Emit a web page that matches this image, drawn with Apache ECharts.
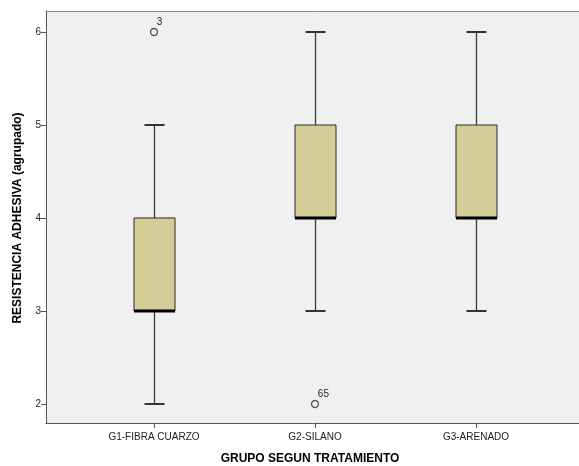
<!DOCTYPE html>
<html><head><meta charset="utf-8">
<script src="https://cdn.jsdelivr.net/npm/echarts@6/dist/echarts.min.js"></script>
<style>html,body{margin:0;padding:0;background:#fff}#chart{width:579px;height:466px}</style>
</head><body><div id="chart"></div>
<script>
// Grouped adhesive strength by treatment group (box-and-whisker summary)
const groups = ['G1-FIBRA CUARZO', 'G2-SILANO', 'G3-ARENADO'];
const whiskerLow = [2, 3, 3];
const q1 = [3, 4, 4];
const median = [3, 4, 4];
const q3 = [4, 5, 5];
const whiskerHigh = [5, 6, 6];
// outliers: group index, value, case number
const outlierGroup = [0, 1];
const outlierValue = [6, 2];
const outlierCase = ['3', '65'];
const yTicks = [2, 3, 4, 5, 6];

const FONT = '"Liberation Sans", Arial, sans-serif';
const Y_MIN = 1.7957, Y_MAX = 6.2258;

const boxData = groups.map((g, i) => [i, whiskerLow[i], q1[i], median[i], q3[i], whiskerHigh[i]]);
const outlierData = outlierGroup.map((g, k) => [g, outlierValue[k], outlierCase[k]]);

function renderBox(params, api) {
  const i = api.value(0);
  const lo = api.coord([i, api.value(1)]);
  const b1 = api.coord([i, api.value(2)]);
  const md = api.coord([i, api.value(3)]);
  const b3 = api.coord([i, api.value(4)]);
  const hi = api.coord([i, api.value(5)]);
  const x = Math.round(lo[0]) + 0.5;
  const bw = 41, cw = 20;
  const wStyle = { stroke: '#3a3a3a', lineWidth: 1.3 };
  return {
    type: 'group',
    children: [
      { type: 'line', shape: { x1: x, y1: hi[1], x2: x, y2: b3[1] }, style: wStyle },
      { type: 'line', shape: { x1: x, y1: b1[1], x2: x, y2: lo[1] }, style: wStyle },
      { type: 'line', shape: { x1: x - cw / 2, y1: hi[1], x2: x + cw / 2, y2: hi[1] }, style: { stroke: '#333', lineWidth: 2 } },
      { type: 'line', shape: { x1: x - cw / 2, y1: lo[1], x2: x + cw / 2, y2: lo[1] }, style: { stroke: '#333', lineWidth: 2 } },
      { type: 'rect', shape: { x: x - bw / 2, y: b3[1], width: bw, height: b1[1] - b3[1] },
        style: { fill: '#d3ce97', stroke: '#2a2a2a', lineWidth: 1 } },
      { type: 'line', shape: { x1: x - bw / 2, y1: md[1], x2: x + bw / 2, y2: md[1] }, style: { stroke: '#000', lineWidth: 3 } }
    ]
  };
}

const chart = echarts.init(document.getElementById('chart'), null, { renderer: 'canvas' });
chart.setOption({
  animation: false,
  backgroundColor: '#ffffff',
  grid: [
    { left: 46, top: 11, width: 545, bottom: 43, show: true, backgroundColor: '#f0f0f0', borderWidth: 0, containLabel: false },
    { left: 73.5, top: 11, width: 483, bottom: 43, containLabel: false }
  ],
  xAxis: [
    { type: 'value', gridIndex: 0, min: 0, max: 1, axisLine: { show: true, lineStyle: { color: '#555', width: 1 } },
      axisTick: { show: false }, axisLabel: { show: false }, splitLine: { show: false } },
    { type: 'category', gridIndex: 1, data: groups, boundaryGap: true,
      axisLine: { show: false },
      axisTick: { show: true, alignWithLabel: true, length: 5, lineStyle: { color: '#555' } },
      axisLabel: { color: '#222', fontFamily: FONT, fontSize: 10, margin: 9 },
      splitLine: { show: false } },
    { type: 'value', gridIndex: 0, position: 'top', min: 0, max: 1,
      axisLine: { show: true, lineStyle: { color: '#8a8a8a', width: 1 } },
      axisTick: { show: false }, axisLabel: { show: false }, splitLine: { show: false } }
  ],
  yAxis: [
    { type: 'value', gridIndex: 0, min: Y_MIN, max: Y_MAX,
      axisLine: { show: true, lineStyle: { color: '#555', width: 1 } },
      axisTick: { show: true, length: 5, customValues: yTicks, lineStyle: { color: '#555' } },
      axisLabel: { customValues: yTicks, color: '#222', fontFamily: FONT, fontSize: 10, margin: 5 },
      splitLine: { show: false } },
    { type: 'value', gridIndex: 1, min: Y_MIN, max: Y_MAX, show: false, splitLine: { show: false } }
  ],
  series: [
    { type: 'custom', xAxisIndex: 1, yAxisIndex: 1, renderItem: renderBox, data: boxData, z: 3 },
    { type: 'scatter', xAxisIndex: 1, yAxisIndex: 1, data: outlierData,
      symbol: 'circle', symbolSize: 7,
      itemStyle: { color: 'rgba(0,0,0,0)', borderColor: '#555', borderWidth: 1.3, opacity: 1 },
      label: { show: true, formatter: p => p.value[2], position: [7, -11], color: '#222', fontFamily: FONT, fontSize: 10 },
      z: 4 }
  ],
  graphic: [
    { type: 'text', x: 310, y: 459, style: { text: 'GRUPO SEGUN TRATAMIENTO', font: 'bold 12px ' + FONT, fill: '#000', align: 'center', verticalAlign: 'middle' } },
    { type: 'text', x: 18, y: 218, rotation: Math.PI / 2, style: { text: 'RESISTENCIA ADHESIVA (agrupado)', font: 'bold 12px ' + FONT, fill: '#000', align: 'center', verticalAlign: 'middle' } }
  ]
});
</script>
</body></html>
